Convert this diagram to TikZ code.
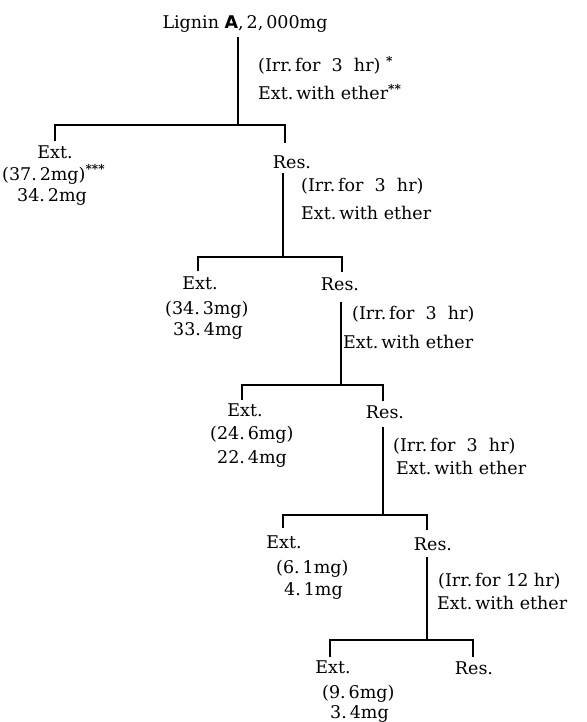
\documentclass[tikz,border=0pt]{standalone}
\usepackage{fontspec}
\setmainfont{DejaVu Serif}
\newfontfamily\sansA{DejaVu Sans}
\usepackage{tikz}
\newcommand{\stars}[1]{\textsuperscript{\bfseries #1}}
\begin{document}
\begin{tikzpicture}[x=1pt,y=-1pt,
  lbl/.style={inner sep=0pt,anchor=base,font=\fontsize{17.5}{21}\selectfont},
  lblw/.style={inner sep=0pt,anchor=base west,font=\fontsize{17.5}{21}\selectfont},
  conn/.style={line width=1.7pt,line join=miter,line cap=butt}]
\useasboundingbox (0,0) rectangle (586,722);
% ---------- level 0
\node[lbl] (top) at (245,29) {Lignin {\sansA\bfseries A},\,2,\,000mg};
\coordinate (v0a) at (238,37);
\coordinate (v0b) at (238,125);
\node[lblw] (a0a) at (258,72) {(Irr.\,for\ \ 3\ \ hr)\ \stars{*}};
\node[lblw] (a0b) at (258,100) {Ext.\,with ether\stars{**}};
\coordinate (b1L) at (55,125);
\coordinate (b1R) at (285,125);
\coordinate (d1L) at (55,141);
\coordinate (d1R) at (285,143);
\draw[conn] (v0a) -- (v0b);
\draw[conn] (d1L) -- (b1L) -- (b1R) -- (d1R);
% ---------- level 1
\node[lbl] (e1) at (55,159) {Ext.};
\node[lblw] (e1a) at (2,180) {(37.\,2mg)\stars{***}};
\node[lblw] (e1b) at (17,201) {34.\,2mg};
\node[lbl] (r1) at (292,168) {Res.};
\coordinate (v1a) at (283,173);
\coordinate (v1b) at (283,257);
\node[lblw] (a1a) at (301,191) {(Irr.\,for\ \ 3\ \ hr)};
\node[lblw] (a1b) at (301,219) {Ext.\,with ether};
\coordinate (b2L) at (198,257);
\coordinate (b2R) at (342,257);
\coordinate (d2L) at (198,271);
\coordinate (d2R) at (342,272);
\draw[conn] (v1a) -- (v1b);
\draw[conn] (d2L) -- (b2L) -- (b2R) -- (d2R);
% ---------- level 2
\node[lbl] (e2) at (200,289) {Ext.};
\node[lblw] (e2a) at (165,314) {(34.\,3mg)};
\node[lblw] (e2b) at (173,335) {33.\,4mg};
\node[lbl] (r2) at (340,290) {Res.};
\coordinate (v2a) at (341,302);
\coordinate (v2b) at (341,385);
\node[lblw] (a2a) at (352,319) {(Irr.\,for\ \ 3\ \ hr)};
\node[lblw] (a2b) at (343,348) {Ext.\,with ether};
\coordinate (b3L) at (242,385);
\coordinate (b3R) at (383,385);
\coordinate (d3L) at (242,400);
\coordinate (d3R) at (383,401);
\draw[conn] (v2a) -- (v2b);
\draw[conn] (d3L) -- (b3L) -- (b3R) -- (d3R);
% ---------- level 3
\node[lbl] (e3) at (245,416) {Ext.};
\node[lblw] (e3a) at (210,439) {(24.\,6mg)};
\node[lblw] (e3b) at (217,463) {22.\,4mg};
\node[lbl] (r3) at (385,418) {Res.};
\coordinate (v3a) at (383,427);
\coordinate (v3b) at (383,515);
\node[lblw] (a3a) at (393,451) {(Irr.\,for\ \ 3\ \ hr)};
\node[lblw] (a3b) at (396,474) {Ext.\,with ether};
\coordinate (b4L) at (283,515);
\coordinate (b4R) at (427,515);
\coordinate (d4L) at (283,528);
\coordinate (d4R) at (427,530);
\draw[conn] (v3a) -- (v3b);
\draw[conn] (d4L) -- (b4L) -- (b4R) -- (d4R);
% ---------- level 4
\node[lbl] (e4) at (284,548) {Ext.};
\node[lblw] (e4a) at (276,573) {(6.\,1mg)};
\node[lblw] (e4b) at (284,595) {4.\,1mg};
\node[lbl] (r4) at (433,550) {Res.};
\coordinate (v4a) at (427,557);
\coordinate (v4b) at (427,640);
\node[lblw] (a4a) at (438,586) {(Irr.\,for\ 12\ hr)};
\node[lblw] (a4b) at (437,609) {Ext.\,with ether};
\coordinate (b5L) at (330,640);
\coordinate (b5R) at (473,640);
\coordinate (d5L) at (330,657);
\coordinate (d5R) at (473,657);
\draw[conn] (v4a) -- (v4b);
\draw[conn] (d5L) -- (b5L) -- (b5R) -- (d5R);
% ---------- level 5
\node[lbl] (e5) at (333,673) {Ext.};
\node[lblw] (e5a) at (322,698) {(9.\,6mg)};
\node[lblw] (e5b) at (330,718) {3.\,4mg};
\node[lbl] (r5) at (474,674) {Res.};
\end{tikzpicture}
\end{document}
